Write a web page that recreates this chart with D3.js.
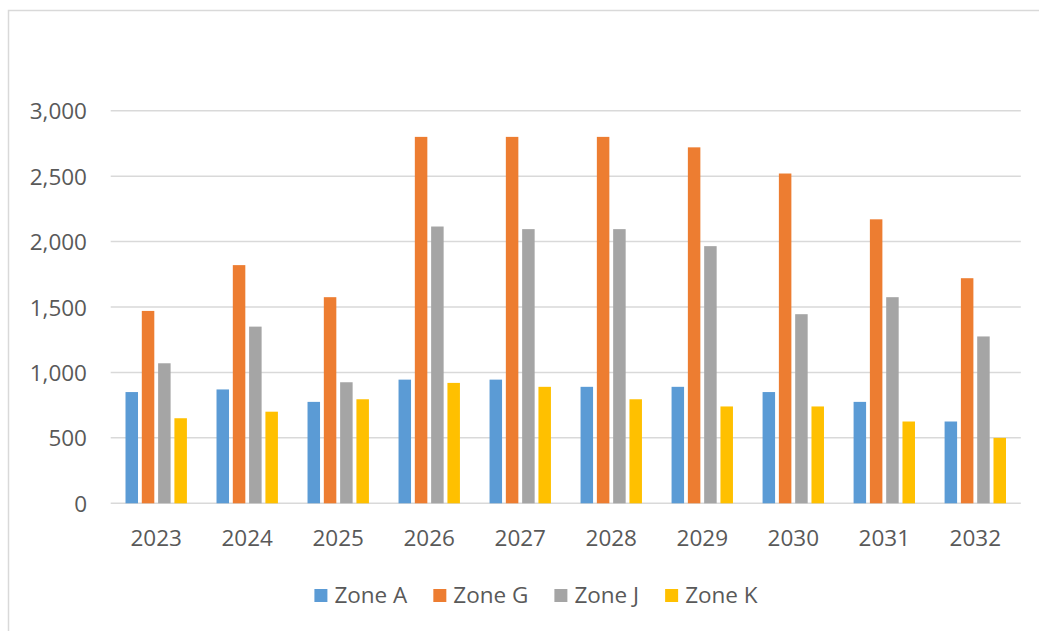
<!DOCTYPE html>
<html>
<head>
<meta charset="utf-8">
<script src="https://cdn.jsdelivr.net/npm/d3@7"></script>
<style>
  body { margin: 0; background: #fff; }
  text { font-family: "Open Sans", "Noto Sans", sans-serif; fill: #595959; }
</style>
</head>
<body>
<svg id="chart" width="1039" height="631"></svg>
<script>
// data
let years = ["2023", "2024", "2025", "2026", "2027", "2028", "2029", "2030", "2031", "2032"]
let zones = ["Zone A", "Zone G", "Zone J", "Zone K"]
let zoneA = [850, 870, 775, 945, 945, 890, 890, 850, 775, 625]
let zoneG = [1470, 1820, 1575, 2800, 2800, 2800, 2720, 2520, 2170, 1720]
let zoneJ = [1070, 1350, 925, 2115, 2095, 2095, 1965, 1445, 1575, 1275]
let zoneK = [650, 700, 795, 920, 890, 795, 740, 740, 625, 500]
let yTicks = [0, 500, 1000, 1500, 2000, 2500, 3000]
let colors = ["#5B9BD5", "#ED7D31", "#A5A5A5", "#FFC000"]

let seriesValues = [zoneA, zoneG, zoneJ, zoneK]
let fontSize = "22.5px"

let svg = d3.select("#chart")

// chart area border (runs off the right/bottom of the picture)
svg.append("rect")
  .attr("x", 8.5).attr("y", 10.5)
  .attr("width", 1100).attr("height", 700)
  .attr("fill", "none")
  .attr("stroke", "#d9d9d9")
  .attr("stroke-width", 1.5)

let plotLeft = 110.7, plotRight = 1020.8, plotTop = 110.7, plotBottom = 503.3

let x = d3.scaleBand()
  .domain(years)
  .range([plotLeft, plotRight])

let groupWidth = 61.4
let xInner = d3.scaleBand()
  .domain(zones)
  .range([0, groupWidth])
  .paddingInner(0.233)
  .paddingOuter(0)

let y = d3.scaleLinear()
  .domain([0, 3000])
  .range([plotBottom, plotTop])

//gridlines
svg.append("g").selectAll("line")
  .data(yTicks)
  .enter()
  .append("line")
  .attr("x1", plotLeft)
  .attr("x2", plotRight)
  .attr("y1", d => y(d))
  .attr("y2", d => y(d))
  .attr("stroke", "#d9d9d9")
  .attr("stroke-width", 1.5)

//y axis labels
let yAxis = svg.append("g")
  .attr("transform", "translate(87, 0)")
  .call(d3.axisLeft(y).tickValues(yTicks).tickSize(0).tickPadding(0).tickFormat(d3.format(",")))
yAxis.select(".domain").remove()
yAxis.selectAll("text")
  .style("font-size", fontSize)
  .attr("fill", "#595959")
  .attr("dy", "0.36em")

//bars
let groups = svg.append("g").selectAll("g")
  .data(years)
  .enter()
  .append("g")
  .attr("transform", d => "translate(" + (x(d) + (x.bandwidth() - groupWidth) / 2) + ",0)")

groups.selectAll("rect")
  .data((yr, i) => zones.map((z, j) => ({zone: z, value: seriesValues[j][i], color: colors[j]})))
  .enter()
  .append("rect")
  .attr("x", d => xInner(d.zone))
  .attr("width", xInner.bandwidth())
  .attr("y", d => y(d.value))
  .attr("height", d => plotBottom - y(d.value))
  .attr("fill", d => d.color)

//x axis labels
let xAxis = svg.append("g")
  .attr("transform", "translate(0, " + plotBottom + ")")
  .call(d3.axisBottom(x).tickSize(0).tickPadding(0))
xAxis.select(".domain").remove()
xAxis.selectAll("text")
  .style("font-size", fontSize)
  .attr("fill", "#595959")
  .attr("y", 42.5)
  .attr("dy", 0)

//legend
let legend = svg.append("g")
let cursor = 0
zones.forEach((z, i) => {
  let item = legend.append("g").attr("transform", "translate(" + cursor + ",0)")
  item.append("rect")
    .attr("x", 0).attr("y", -14)
    .attr("width", 13).attr("height", 13)
    .attr("fill", colors[i])
  let t = item.append("text")
    .attr("x", 20)
    .attr("y", 0)
    .style("font-size", fontSize)
    .text(z)
  cursor += 20 + t.node().getComputedTextLength() + 26
})
let legendWidth = cursor - 26
legend.attr("transform", "translate(" + (536 - legendWidth / 2) + ", 603)")
</script>
</body>
</html>
